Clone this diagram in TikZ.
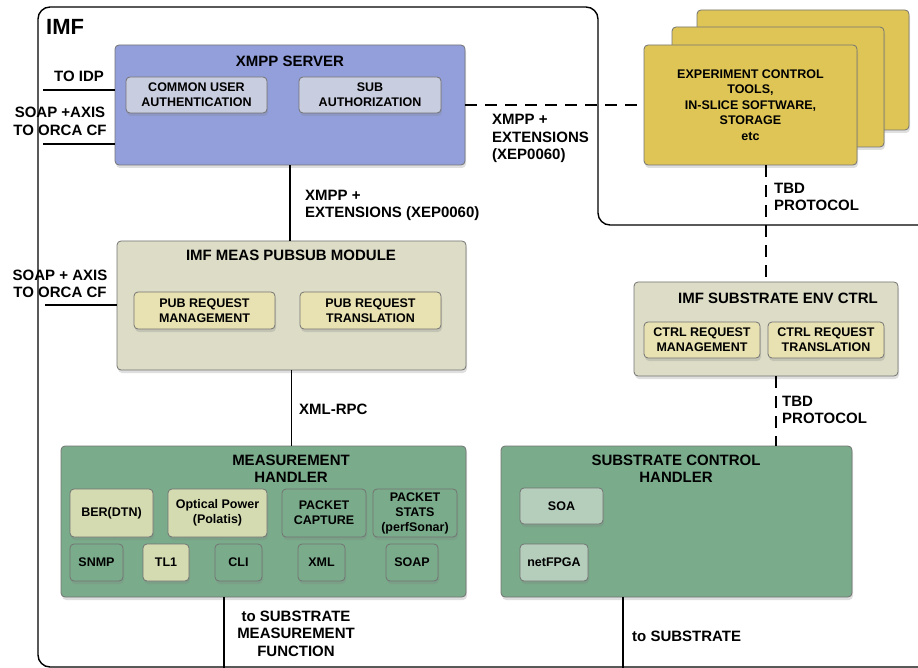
\documentclass[tikz,border=0pt]{standalone}
\usepackage{fontspec}
\setmainfont{Liberation Sans}
\usetikzlibrary{shadows}
\definecolor{xmppblue}{RGB}{146,159,219}
\definecolor{authgrey}{RGB}{201,205,224}
\definecolor{toolyellow}{RGB}{222,197,86}
\definecolor{modbeige}{RGB}{220,220,199}
\definecolor{reqyellow}{RGB}{232,226,178}
\definecolor{handgreen}{RGB}{122,171,139}
\definecolor{protolight}{RGB}{212,219,176}
\definecolor{soagreen}{RGB}{181,205,187}
\def\titlefont{\bfseries\fontsize{15}{17.5}\selectfont}
\def\boxfont{\bfseries\fontsize{12.5}{15}\selectfont}

\begin{document}
\begin{tikzpicture}[x=1pt,y=-1pt,font=\titlefont,
  blk/.style 2 args={draw=black!55,line width=.8pt,rounded corners=4pt,
    minimum width=#1,minimum height=#2,inner sep=0pt,align=center,
    drop shadow={shadow xshift=1pt,shadow yshift=-3pt,opacity=.25}},
  sub/.style={font=\boxfont},
  wire/.style={line width=1.8pt},
  lbl/.style={align=left,anchor=west,inner sep=0pt}]
\useasboundingbox (0,0) rectangle (918,668);
% IMF frame
\draw[line width=1.4pt,rounded corners=12pt]
	(918,225) -- (598,225) -- (598,7) -- (38,7) -- (38,667) -- (918,667);
\node[anchor=west,inner sep=0pt,font=\bfseries\fontsize{22}{24}\selectfont] (imf) at (46,27) {IMF};

% experiment tools (stack)
\node[blk={212}{120},fill=toolyellow] (back) at (803,70) {};
\node[blk={212}{120},fill=toolyellow] (mid) at (778,87) {};
\node[blk={213}{120},fill=toolyellow,font=\bfseries\fontsize{12.5}{15.5}\selectfont] (front) at (750.5,105)
	{EXPERIMENT CONTROL\\TOOLS,\\IN-SLICE SOFTWARE,\\STORAGE\\etc};

% XMPP server
\node[blk={350}{120},fill=xmppblue] (xmpp) at (290,105) {};
\node (xmpptitle) at (290,61) {XMPP SERVER};
\node[blk={141}{36},fill=authgrey,sub] (cua) at (196.5,95) {COMMON USER\\AUTHENTICATION};
\node[blk={142}{36},fill=authgrey,sub] (subauth) at (370,95) {SUB\\AUTHORIZATION};

% pubsub module
\node[blk={349}{129},fill=modbeige] (pubsub) at (291.5,305.5) {};
\node (pubsubtitle) at (291,255) {IMF MEAS PUBSUB MODULE};
\node[blk={141}{37},fill=reqyellow,sub] (prm) at (204.5,310.5) {PUB REQUEST\\MANAGEMENT};
\node[blk={141}{37},fill=reqyellow,sub] (prt) at (370.5,310.5) {PUB REQUEST\\TRANSLATION};

% substrate env ctrl
\node[blk={264}{94},fill=modbeige] (envctrl) at (766,329) {};
\node (envtitle) at (778,298) {IMF SUBSTRATE ENV CTRL};
\node[blk={116}{36},fill=reqyellow,sub] (crm) at (702,340) {CTRL REQUEST\\MANAGEMENT};
\node[blk={116}{36},fill=reqyellow,sub] (crt) at (826,340) {CTRL REQUEST\\TRANSLATION};

% measurement handler
\node[blk={405}{151},fill=handgreen] (meas) at (263.5,521.5) {};
\node[align=center] (meastitle) at (291,469) {MEASUREMENT\\HANDLER};
\node[blk={83}{48},fill=protolight,sub] (ber) at (111.5,513) {BER(DTN)};
\node[blk={99}{48},fill=protolight,sub] (optical) at (217.5,513) {Optical Power\\(Polatis)};
\node[blk={84}{48},fill=handgreen,sub] (pcap) at (324,513) {PACKET\\CAPTURE};
\node[blk={84}{48},fill=handgreen,sub] (pstats) at (415,513) {PACKET\\STATS\\(perfSonar)};
\node[blk={53}{37},fill=handgreen,sub] (snmp) at (96.5,562.5) {SNMP};
\node[blk={46}{37},fill=protolight,sub] (tl1) at (166,562.5) {TL1};
\node[blk={47}{37},fill=handgreen,sub] (cli) at (238.5,562.5) {CLI};
\node[blk={47}{37},fill=handgreen,sub] (xml) at (321.5,562.5) {XML};
\node[blk={52}{37},fill=handgreen,sub] (soap) at (412,562.5) {SOAP};

% substrate control handler
\node[blk={351}{151},fill=handgreen] (subctl) at (676.5,521.5) {};
\node[align=center] (subctltitle) at (676,469) {SUBSTRATE CONTROL\\HANDLER};
\node[blk={83}{36},fill=soagreen,sub] (soa) at (561.5,506) {SOA};
\node[blk={68}{37},fill=soagreen,sub] (netfpga) at (554,562.5) {netFPGA};

% connectors
\coordinate (idp) at (43,90);
\coordinate (orcaA) at (43,144);
\coordinate (orcaB) at (45,305);
\coordinate (smf) at (224,668);
\coordinate (substr) at (623,668);
\draw[wire] (idp) -- (idp -| xmpp.west);
\draw[wire] (orcaA) -- (orcaA -| xmpp.west);
\draw[wire] (orcaB) -- (orcaB -| pubsub.west);
\draw[wire,dash pattern=on 12pt off 8pt] (xmpp.east) -- (front.west);
\draw[wire] (xmpp.south) -- (xmpp.south |- pubsub.north);
\draw[wire] (pubsub.south) -- (pubsub.south |- meas.north);
\draw[wire,dash pattern=on 12pt off 8pt] (envctrl.north |- front.south) -- (envctrl.north);
\draw[wire,dash pattern=on 12pt off 8pt] ([xshift=10pt]envctrl.south) -- ([xshift=10pt]envctrl.south |- subctl.north);
\draw[wire] (smf |- meas.south) -- (smf);
\draw[wire] (substr |- subctl.south) -- (substr);

% labels
\node (idplbl) at (79,76) {TO IDP};
\node[align=center] (orcalblA) at (60,121.5) {SOAP +AXIS\\TO ORCA CF};
\node[align=center] (orcalblB) at (60,284) {SOAP + AXIS\\TO ORCA CF};
\node[lbl] (extlblA) at (492,138.5) {XMPP +\\EXTENSIONS\\(XEP0060)};
\node[lbl] (extlblB) at (305,205.5) {XMPP +\\EXTENSIONS (XEP0060)};
\node[lbl] (rpclbl) at (299,409) {XML-RPC};
\node[lbl] (tbdA) at (774,197) {TBD\\PROTOCOL};
\node[lbl] (tbdB) at (782,410) {TBD\\PROTOCOL};
\node[align=center] (smflbl) at (296,633.5) {to SUBSTRATE\\MEASUREMENT\\FUNCTION};
\node[lbl] (substrlbl) at (632,636) {to SUBSTRATE};
\end{tikzpicture}
\end{document}
